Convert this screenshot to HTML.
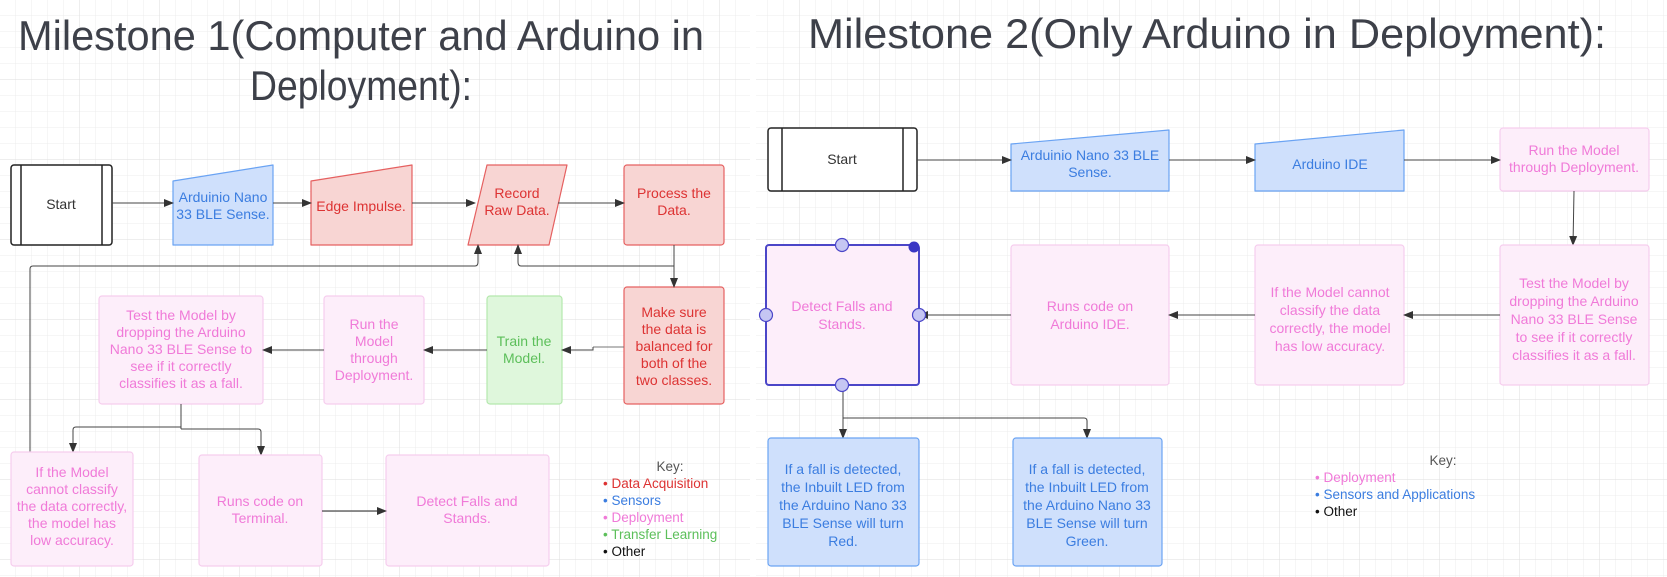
<!DOCTYPE html>
<html><head><meta charset="utf-8"><style>
html,body{margin:0;padding:0;background:#fff;}
svg{display:block;font-family:"Liberation Sans",Arial,sans-serif;}
</style></head><body>
<svg width="1667" height="577" viewBox="0 0 1667 577" xmlns="http://www.w3.org/2000/svg">
<defs>
<pattern id="g" width="16" height="16" patternUnits="userSpaceOnUse">
<path d="M16 0V16M0 16H16" stroke="#ececec" stroke-width="1" fill="none"/>
</pattern>
<pattern id="G" width="80" height="80" patternUnits="userSpaceOnUse">
<rect width="80" height="80" fill="url(#g)"/>
<path d="M80 0V80M0 80H80" stroke="#dedede" stroke-width="1" fill="none"/>
</pattern>
<marker id="a" markerWidth="10" markerHeight="10" refX="9" refY="5" orient="auto" markerUnits="userSpaceOnUse">
<path d="M0,1 L10,5 L0,9 Z" fill="#333"/>
</marker>
</defs>
<rect width="1667" height="577" fill="url(#G)"/>
<rect x="750" y="0" width="6" height="577" fill="#fff"/>

<!-- Titles -->
<text x="361" y="50" font-size="42" fill="#3d4049" text-anchor="middle" textLength="686" lengthAdjust="spacingAndGlyphs">Milestone 1(Computer and Arduino in</text>
<text x="361" y="100" font-size="42" fill="#3d4049" text-anchor="middle" textLength="222" lengthAdjust="spacingAndGlyphs">Deployment):</text>
<text x="1207" y="48" font-size="42" fill="#3d4049" text-anchor="middle" textLength="798" lengthAdjust="spacingAndGlyphs">Milestone 2(Only Arduino in Deployment):</text>

<g font-size="14" text-anchor="middle">
<!-- ===== M1 ===== -->
<rect x="11" y="165" width="101" height="80" rx="3" fill="#fff" stroke="#222" stroke-width="1.5"/>
<line x1="21" y1="165" x2="21" y2="245" stroke="#222" stroke-width="1.5"/>
<line x1="102" y1="165" x2="102" y2="245" stroke="#222" stroke-width="1.5"/>
<text x="61" y="209" fill="#333">Start</text>

<path d="M173,181 L273,165 L273,245 L173,245 Z" fill="#cfe0fc" stroke="#6aa3f3" stroke-width="1.2" stroke-linejoin="round"/>
<text x="223" y="202" fill="#3b7de0">Arduinio Nano</text>
<text x="223" y="219" fill="#3b7de0">33 BLE Sense.</text>

<path d="M311,181 L412,165 L412,245 L311,245 Z" fill="#f8d5d3" stroke="#e56060" stroke-width="1.2" stroke-linejoin="round"/>
<text x="361" y="211" fill="#dd3333">Edge Impulse.</text>

<path d="M487,165 L567,165 L549,245 L468,245 Z" fill="#f8d5d3" stroke="#e56060" stroke-width="1.2" stroke-linejoin="round"/>
<text x="517" y="198" fill="#dd3333">Record</text>
<text x="517" y="215" fill="#dd3333">Raw Data.</text>

<rect x="624" y="165" width="100" height="80" rx="3" fill="#f8d5d3" stroke="#e56060" stroke-width="1.2"/>
<text x="674" y="198" fill="#dd3333">Process the</text>
<text x="674" y="215" fill="#dd3333">Data.</text>

<line x1="112" y1="203" x2="173" y2="203" stroke="#444" marker-end="url(#a)"/>
<line x1="273" y1="203" x2="311" y2="203" stroke="#444" marker-end="url(#a)"/>
<line x1="412" y1="203" x2="475" y2="203" stroke="#444" marker-end="url(#a)"/>
<line x1="558" y1="203" x2="624" y2="203" stroke="#444" marker-end="url(#a)"/>

<rect x="624" y="287" width="100" height="117" rx="3" fill="#f8d5d3" stroke="#e56060" stroke-width="1.2"/>
<text x="674" y="317" fill="#dd3333">Make sure</text>
<text x="674" y="334" fill="#dd3333">the data is</text>
<text x="674" y="351" fill="#dd3333">balanced for</text>
<text x="674" y="368" fill="#dd3333">both of the</text>
<text x="674" y="385" fill="#dd3333">two classes.</text>

<rect x="487" y="296" width="75" height="108" rx="3" fill="#dff7dc" stroke="#b4e8ad" stroke-width="1.2"/>
<text x="524" y="346" fill="#5cbf5a">Train the</text>
<text x="524" y="363" fill="#5cbf5a">Model.</text>

<rect x="324" y="296" width="100" height="108" rx="3" fill="#fdeefa" stroke="#f6cdee" stroke-width="1.2"/>
<text x="374" y="329" fill="#f07ad8">Run the</text>
<text x="374" y="346" fill="#f07ad8">Model</text>
<text x="374" y="363" fill="#f07ad8">through</text>
<text x="374" y="380" fill="#f07ad8">Deployment.</text>

<rect x="99" y="296" width="164" height="108" rx="3" fill="#fdeefa" stroke="#f6cdee" stroke-width="1.2"/>
<text x="181" y="320" fill="#f07ad8">Test the Model by</text>
<text x="181" y="337" fill="#f07ad8">dropping the Arduino</text>
<text x="181" y="354" fill="#f07ad8">Nano 33 BLE Sense to</text>
<text x="181" y="371" fill="#f07ad8">see if it correctly</text>
<text x="181" y="388" fill="#f07ad8">classifies it as a fall.</text>

<line x1="624" y1="347" x2="593" y2="347" stroke="#777"/>
<path d="M593,347 L593,350 L562,350" stroke="#444" fill="none" marker-end="url(#a)"/>
<line x1="487" y1="350" x2="424" y2="350" stroke="#444" marker-end="url(#a)"/>
<line x1="324" y1="350" x2="263" y2="350" stroke="#444" marker-end="url(#a)"/>

<!-- loops -->
<path d="M674,245 L674,287" stroke="#444" fill="none" marker-end="url(#a)"/>
<path d="M674,266 L521,266 Q518,266 518,262 L518,245" stroke="#444" fill="none" marker-end="url(#a)"/>
<path d="M30,452 L30,269 Q30,266 33,266 L475,266 Q478,266 478,262 L478,245" stroke="#444" fill="none" marker-end="url(#a)"/>

<path d="M181,404 L181,429" stroke="#444" fill="none"/>
<path d="M181,427 L76,427 Q73,427 73,430 L73,452" stroke="#444" fill="none" marker-end="url(#a)"/>
<path d="M181,429 L258,429 Q261,429 261,432 L261,455" stroke="#444" fill="none" marker-end="url(#a)"/>

<rect x="11" y="452" width="122" height="114" rx="3" fill="#fdeefa" stroke="#f6cdee" stroke-width="1.2"/>
<text x="72" y="477" fill="#f07ad8">If the Model</text>
<text x="72" y="494" fill="#f07ad8">cannot classify</text>
<text x="72" y="511" fill="#f07ad8">the data correctly,</text>
<text x="72" y="528" fill="#f07ad8">the model has</text>
<text x="72" y="545" fill="#f07ad8">low accuracy.</text>

<rect x="199" y="455" width="123" height="111" rx="3" fill="#fdeefa" stroke="#f6cdee" stroke-width="1.2"/>
<text x="260" y="506" fill="#f07ad8">Runs code on</text>
<text x="260" y="523" fill="#f07ad8">Terminal.</text>

<rect x="386" y="455" width="163" height="111" rx="3" fill="#fdeefa" stroke="#f6cdee" stroke-width="1.2"/>
<text x="467" y="506" fill="#f07ad8">Detect Falls and</text>
<text x="467" y="523" fill="#f07ad8">Stands.</text>
<line x1="322" y1="511" x2="386" y2="511" stroke="#222" marker-end="url(#a)"/>
</g>

<g font-size="13.5">
<text x="670" y="471" fill="#555" text-anchor="middle">Key:</text>
<text x="603" y="488" fill="#dd3333">• Data Acquisition</text>
<text x="603" y="505" fill="#3b7de0">• Sensors</text>
<text x="603" y="522" fill="#f07ad8">• Deployment</text>
<text x="603" y="539" fill="#5cbf5a">• Transfer Learning</text>
<text x="603" y="556" fill="#111">• Other</text>
</g>

<!-- ===== M2 ===== -->
<g font-size="14" text-anchor="middle">
<rect x="768" y="128" width="149" height="63" rx="3" fill="#fff" stroke="#222" stroke-width="1.5"/>
<line x1="782" y1="128" x2="782" y2="191" stroke="#222" stroke-width="1.5"/>
<line x1="903" y1="128" x2="903" y2="191" stroke="#222" stroke-width="1.5"/>
<text x="842" y="164" fill="#333">Start</text>

<path d="M1011,144 L1169,130 L1169,191 L1011,191 Z" fill="#cfe0fc" stroke="#6aa3f3" stroke-width="1.2" stroke-linejoin="round"/>
<text x="1090" y="160" fill="#3b7de0">Arduinio Nano 33 BLE</text>
<text x="1090" y="177" fill="#3b7de0">Sense.</text>

<path d="M1255,144 L1404,130 L1404,191 L1255,191 Z" fill="#cfe0fc" stroke="#6aa3f3" stroke-width="1.2" stroke-linejoin="round"/>
<text x="1330" y="169" fill="#3b7de0">Arduino IDE</text>

<rect x="1500" y="128" width="149" height="63" rx="3" fill="#fdeefa" stroke="#f6cdee" stroke-width="1.2"/>
<text x="1574" y="155" fill="#f07ad8">Run the Model</text>
<text x="1574" y="172" fill="#f07ad8">through Deployment.</text>

<line x1="917" y1="160" x2="1011" y2="160" stroke="#444" marker-end="url(#a)"/>
<line x1="1169" y1="160" x2="1255" y2="160" stroke="#444" marker-end="url(#a)"/>
<line x1="1404" y1="160" x2="1500" y2="160" stroke="#444" marker-end="url(#a)"/>
<line x1="1574" y1="191" x2="1573" y2="245" stroke="#444" marker-end="url(#a)"/>

<rect x="1500" y="245" width="149" height="140" rx="3" fill="#fdeefa" stroke="#f6cdee" stroke-width="1.2"/>
<text x="1574" y="288" fill="#f07ad8">Test the Model by</text>
<text x="1574" y="306" fill="#f07ad8">dropping the Arduino</text>
<text x="1574" y="324" fill="#f07ad8">Nano 33 BLE Sense</text>
<text x="1574" y="342" fill="#f07ad8">to see if it correctly</text>
<text x="1574" y="360" fill="#f07ad8">classifies it as a fall.</text>

<rect x="1255" y="245" width="149" height="140" rx="3" fill="#fdeefa" stroke="#f6cdee" stroke-width="1.2"/>
<text x="1330" y="297" fill="#f07ad8">If the Model cannot</text>
<text x="1330" y="315" fill="#f07ad8">classify the data</text>
<text x="1330" y="333" fill="#f07ad8">correctly, the model</text>
<text x="1330" y="351" fill="#f07ad8">has low accuracy.</text>

<rect x="1011" y="245" width="158" height="140" rx="3" fill="#fdeefa" stroke="#f6cdee" stroke-width="1.2"/>
<text x="1090" y="311" fill="#f07ad8">Runs code on</text>
<text x="1090" y="329" fill="#f07ad8">Arduino IDE.</text>

<rect x="766" y="245" width="153" height="140" rx="3" fill="#fdeefa" stroke="#4b46c8" stroke-width="2"/>
<text x="842" y="311" fill="#f07ad8">Detect Falls and</text>
<text x="842" y="329" fill="#f07ad8">Stands.</text>

<line x1="1500" y1="315" x2="1404" y2="315" stroke="#444" marker-end="url(#a)"/>
<line x1="1255" y1="315" x2="1169" y2="315" stroke="#444" marker-end="url(#a)"/>
<line x1="1011" y1="315" x2="919" y2="315" stroke="#444" marker-end="url(#a)"/>

<path d="M843,385 L843,438" stroke="#444" fill="none" marker-end="url(#a)"/>
<path d="M843,418 L1084,418 Q1087,418 1087,421 L1087,438" stroke="#444" fill="none" marker-end="url(#a)"/>

<g fill="#c5c6f3" stroke="#4b46c8" stroke-width="1.2">
<circle cx="842" cy="245" r="6.5"/>
<circle cx="766" cy="315" r="6.5"/>
<circle cx="919" cy="315" r="6.5"/>
<circle cx="842" cy="385" r="6.5"/>
</g>
<circle cx="914" cy="247" r="5.5" fill="#3a37c4"/>

<rect x="768" y="438" width="151" height="128" rx="3" fill="#cfe0fc" stroke="#6aa3f3" stroke-width="1.2"/>
<text x="843" y="474" fill="#3b7de0">If a fall is detected,</text>
<text x="843" y="492" fill="#3b7de0">the Inbuilt LED from</text>
<text x="843" y="510" fill="#3b7de0">the Arduino Nano 33</text>
<text x="843" y="528" fill="#3b7de0">BLE Sense will turn</text>
<text x="843" y="546" fill="#3b7de0">Red.</text>

<rect x="1013" y="438" width="149" height="128" rx="3" fill="#cfe0fc" stroke="#6aa3f3" stroke-width="1.2"/>
<text x="1087" y="474" fill="#3b7de0">If a fall is detected,</text>
<text x="1087" y="492" fill="#3b7de0">the Inbuilt LED from</text>
<text x="1087" y="510" fill="#3b7de0">the Arduino Nano 33</text>
<text x="1087" y="528" fill="#3b7de0">BLE Sense will turn</text>
<text x="1087" y="546" fill="#3b7de0">Green.</text>
</g>

<g font-size="13.5">
<text x="1443" y="465" fill="#555" text-anchor="middle">Key:</text>
<text x="1315" y="482" fill="#f07ad8">• Deployment</text>
<text x="1315" y="499" fill="#3b7de0">• Sensors and Applications</text>
<text x="1315" y="516" fill="#111">• Other</text>
</g>
</svg>
</body></html>
